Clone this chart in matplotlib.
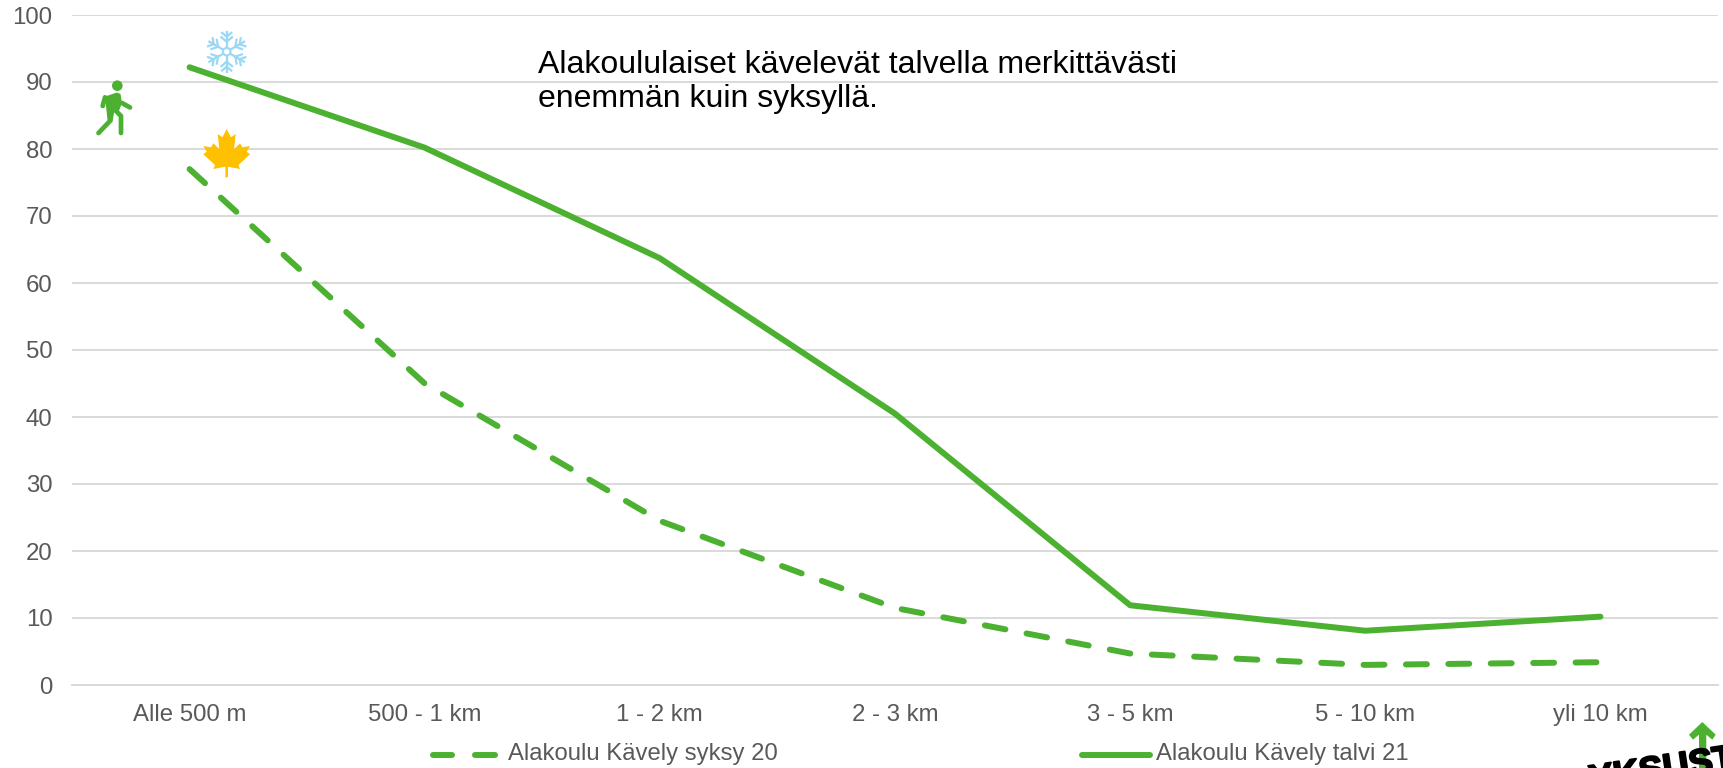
import numpy as np
import matplotlib
matplotlib.use('Agg')
import matplotlib.pyplot as plt
import matplotlib.patheffects as pe
from matplotlib.patches import Polygon, Circle

W, H = 1723, 768

categories = ['Alle 500 m', '500 - 1 km', '1 - 2 km', '2 - 3 km', '3 - 5 km', '5 - 10 km', 'yli 10 km']
syksy_20 = [77.0, 45.0, 24.5, 11.5, 4.7, 3.0, 3.4]
talvi_21 = [92.2, 80.2, 63.7, 40.5, 11.9, 8.1, 10.2]
y_ticks = [0, 10, 20, 30, 40, 50, 60, 70, 80, 90, 100]
note = 'Alakoululaiset kävelevät talvella merkittävästi\nenemmän kuin syksyllä.'

GREEN = '#4CB130'
TEXT = '#595959'
GRID = '#D9D9D9'

plt.rcParams['font.family'] = ['Liberation Sans', 'DejaVu Sans']

fig = plt.figure(figsize=(W / 100, H / 100), dpi=100)
ax = fig.add_axes([72 / W, 1 - 685 / H, (1718 - 72) / W, (685 - 15) / H])

x = np.arange(len(categories))
ax.plot(x, syksy_20, color=GREEN, lw=4.3, dashes=(3.5, 3.6), dash_capstyle='round')
ax.plot(x, talvi_21, color=GREEN, lw=4.3, solid_capstyle='round')

ax.set_xlim(-0.5, len(categories) - 0.5)
ax.set_ylim(0, 100)
ax.set_yticks(y_ticks)
ax.set_xticks(x, categories)
ax.grid(axis='y', color=GRID, lw=1.4)
ax.set_axisbelow(True)
ax.tick_params(length=0, labelsize=17.3, labelcolor=TEXT)
ax.tick_params(axis='x', pad=14)
ax.tick_params(axis='y', pad=14)
for s in ax.spines.values():
    s.set_visible(False)
ax.spines['bottom'].set_visible(True)
ax.spines['bottom'].set_color(GRID)
ax.spines['bottom'].set_linewidth(1.4)

# overlay in picture pixels, for note, legend and icons
ov = fig.add_axes([0, 0, 1, 1], facecolor='none')
ov.set_xlim(0, W)
ov.set_ylim(H, 0)
ov.axis('off')

ov.text(538, 82, note, fontsize=23, color='black', va='center', linespacing=1.16)

# legend
ov.plot([433, 452], [755, 755], color=GREEN, lw=4.3, solid_capstyle='round')
ov.plot([475, 495], [755, 755], color=GREEN, lw=4.3, solid_capstyle='round')
ov.text(508, 754, 'Alakoulu Kävely syksy 20', fontsize=17.2, color=TEXT, va='center')
ov.plot([1082, 1150], [755, 755], color=GREEN, lw=4.3, solid_capstyle='round')
ov.text(1156, 754, 'Alakoulu Kävely talvi 21', fontsize=17.2, color=TEXT, va='center')

# walker
ov.add_patch(Circle((117.3, 85.7), 5.3, color=GREEN, lw=0))
ov.add_patch(Polygon([(105, 96.5), (117, 92.5), (120.5, 94), (122, 103), (118.5, 112), (114.5, 110),
                      (112.5, 122), (107.5, 120)], color=GREEN, lw=0))
walker = [[(102.7, 106), (105, 97.3)],
          [(122, 103), (130, 107.5)],
          [(110, 121), (98.5, 133)],
          [(116, 111), (121, 116), (121, 133)]]
for seg in walker:
    xs, ys = zip(*seg)
    ov.plot(xs, ys, color=GREEN, lw=3.4, solid_capstyle='round', solid_joinstyle='round')

# snowflake
SNOW = '#9AD8F5'
cx, cy = 226.7, 51.7
for a in np.deg2rad(np.arange(30, 390, 60)):
    d = np.array([np.cos(a), np.sin(a)])
    ov.plot([cx + 4 * d[0], cx + 20 * d[0]], [cy + 4 * d[1], cy + 20 * d[1]], color=SNOW, lw=1.6)
    for r, l in ((10, 7), (15, 6)):
        for s in (-1, 1):
            b = a + s * np.deg2rad(50)
            p = np.array([cx, cy]) + r * d
            ov.plot([p[0], p[0] + l * np.cos(b)], [p[1], p[1] + l * np.sin(b)], color=SNOW, lw=1.6)
ov.add_patch(Circle((cx, cy), 3.8, fill=False, ec=SNOW, lw=1.4))

# maple leaf, right half mirrored
lx = 226.7
half = [(0, 129), (4.3, 137.3), (9, 134), (7.3, 149.3), (13.3, 143.3), (15.7, 147.3), (23.3, 146),
        (20, 151.7), (23.3, 154.3), (11.7, 165), (13.3, 169), (1.3, 166.7), (1.3, 177.3)]
leaf = [(lx + a, b) for a, b in half] + [(lx - a, b) for a, b in reversed(half)]
ov.add_patch(Polygon(leaf, color='#FFC000', lw=0))

# logo corner
ov.add_patch(Polygon([(1702.3, 722), (1715.7, 734.7), (1712.3, 739.7), (1706.3, 734.7), (1706.3, 768),
                      (1699, 768), (1699, 734.7), (1693, 739.7), (1689, 734.7)],
                     color=GREEN, lw=0))
logo = ov.text(1736, 769, 'YKSUST', fontsize=26, fontweight='bold', color='black', ha='right', va='baseline',
               rotation=8.5, rotation_mode='anchor')
logo.set_path_effects([pe.withStroke(linewidth=1.5, foreground='black')])

fig.savefig('out.png', dpi=100)
